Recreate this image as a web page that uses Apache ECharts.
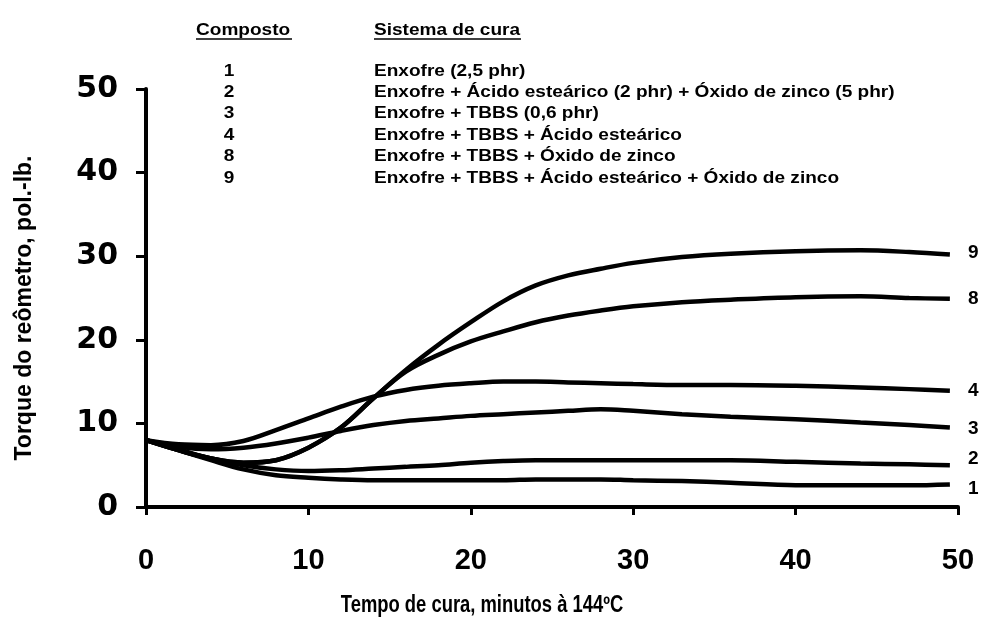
<!DOCTYPE html>
<html>
<head>
<meta charset="utf-8">
<script src="https://cdn.jsdelivr.net/npm/echarts@6/dist/echarts.min.js"></script>
<style>
html,body{margin:0;padding:0;background:#fff;}
#chart{width:981px;height:620px;}
</style>
</head>
<body>
<div id="chart"></div>
<script>
// ---- data ----
var timeGrid = [0, 2, 4, 6, 8, 10, 12, 14, 16, 18, 20, 22, 24, 26, 28, 30, 33, 36, 40, 44, 47, 49.5];
var compostos = ['1', '2', '3', '4', '8', '9'];
var sistemas = [
  'Enxofre (2,5 phr)',
  'Enxofre + Ácido esteárico (2 phr) + Óxido de zinco (5 phr)',
  'Enxofre + TBBS (0,6 phr)',
  'Enxofre + TBBS + Ácido esteárico',
  'Enxofre + TBBS + Óxido de zinco',
  'Enxofre + TBBS + Ácido esteárico + Óxido de zinco'
];
var torque1 = [8, 6.8, 5.6, 4.5, 3.8, 3.5, 3.3, 3.2, 3.2, 3.2, 3.2, 3.2, 3.3, 3.3, 3.3, 3.2, 3.1, 2.9, 2.6, 2.6, 2.6, 2.7];
var torque2 = [8, 6.9, 5.8, 5.0, 4.5, 4.3, 4.4, 4.6, 4.8, 5.0, 5.3, 5.5, 5.6, 5.6, 5.6, 5.6, 5.6, 5.6, 5.4, 5.2, 5.1, 5.0];
var torque3 = [8, 7.2, 6.9, 7.1, 7.6, 8.3, 9.1, 9.8, 10.3, 10.6, 10.9, 11.1, 11.3, 11.5, 11.7, 11.5, 11.1, 10.8, 10.5, 10.1, 9.8, 9.5];
var torque4 = [8, 7.5, 7.4, 7.9, 9.2, 10.6, 12.0, 13.2, 14.0, 14.5, 14.8, 15.0, 15.0, 14.9, 14.8, 14.7, 14.6, 14.6, 14.5, 14.3, 14.1, 13.9];
var torque8 = [8, 6.8, 5.8, 5.3, 5.6, 7.1, 9.5, 13.0, 16.2, 18.2, 19.8, 21.0, 22.1, 22.9, 23.5, 24.0, 24.5, 24.8, 25.1, 25.2, 25.0, 24.9];
var torque9 = [8, 6.8, 5.8, 5.3, 5.6, 7.1, 9.5, 13.0, 16.4, 19.4, 22.1, 24.6, 26.5, 27.7, 28.5, 29.2, 29.9, 30.3, 30.6, 30.7, 30.5, 30.2];
var xTicks = [0, 10, 20, 30, 40, 50];
var yTicks = [0, 10, 20, 30, 40, 50];
var xTitle = 'Tempo de cura, minutos à 144ºC';
var yTitle = 'Torque do reômetro, pol.-lb.';
var headCol1 = 'Composto';
var headCol2 = 'Sistema de cura';

// ---- build ----
var FONT = '"Liberation Sans", Arial, sans-serif';
var WIDE = '"DejaVu Sans", "Liberation Sans", sans-serif';
var allTorque = [torque1, torque2, torque3, torque4, torque8, torque9];
var labelOffsets = [[10, 4], [10, -6], [10, 1], [10, 0], [10, 0], [10, -2]];

function pairs(vals) {
  return timeGrid.map(function (t, i) { return [t, vals[i]]; });
}

var series = allTorque.map(function (vals, i) {
  return {
    name: compostos[i],
    type: 'line',
    data: pairs(vals),
    smooth: 0.35,
    showSymbol: false,
    symbol: 'none',
    lineStyle: { color: '#000', width: 4.5 },
    endLabel: {
      show: true,
      formatter: compostos[i],
      offset: labelOffsets[i],
      color: '#000',
      fontFamily: FONT,
      fontWeight: 'bold',
      fontSize: 19
    },
    z: 3
  };
});

var HS = 1.12;
var graphics = [];
graphics.push({ type: 'text', x: 196, y: 30, scaleX: HS, style: { text: headCol1, font: 'bold 17px ' + FONT, fill: '#000', textVerticalAlign: 'middle' } });
graphics.push({ type: 'text', x: 374, y: 30, scaleX: HS, style: { text: headCol2, font: 'bold 17px ' + FONT, fill: '#000', textVerticalAlign: 'middle' } });
graphics.push({ type: 'line', shape: { x1: 196, y1: 39, x2: 292, y2: 39 }, style: { stroke: '#000', lineWidth: 1.5 } });
graphics.push({ type: 'line', shape: { x1: 374, y1: 39, x2: 521, y2: 39 }, style: { stroke: '#000', lineWidth: 1.5 } });
compostos.forEach(function (c, i) {
  var yy = 71 + i * 21.4;
  graphics.push({ type: 'text', x: 229, y: yy, scaleX: HS, style: { text: c, font: 'bold 17px ' + FONT, fill: '#000', textAlign: 'center', textVerticalAlign: 'middle' } });
  graphics.push({ type: 'text', x: 374, y: yy, scaleX: HS, style: { text: sistemas[i], font: 'bold 17px ' + FONT, fill: '#000', textAlign: 'left', textVerticalAlign: 'middle' } });
});
// x-axis title (drawn condensed like the original)
graphics.push({ type: 'text', x: 482, y: 606, scaleX: 0.8, style: { text: xTitle, font: 'bold 23px ' + FONT, fill: '#000', textAlign: 'center', textVerticalAlign: 'middle' } });

var chart = echarts.init(document.getElementById('chart'), null, { renderer: 'canvas' });
chart.setOption({
  backgroundColor: '#fff',
  animation: false,
  grid: { left: 146, right: 23, top: 89, bottom: 113, containLabel: false },
  xAxis: {
    type: 'value',
    min: xTicks[0],
    max: xTicks[xTicks.length - 1],
    interval: xTicks[1] - xTicks[0],
    axisLine: { show: true, lineStyle: { color: '#000', width: 4 } },
    axisTick: { show: true, length: 8, inside: false, lineStyle: { color: '#000', width: 3 } },
    axisLabel: { color: '#000', fontFamily: FONT, fontWeight: 'bold', fontSize: 29, margin: 39 },
    splitLine: { show: false }
  },
  yAxis: {
    type: 'value',
    min: yTicks[0],
    max: yTicks[yTicks.length - 1],
    interval: yTicks[1] - yTicks[0],
    name: yTitle,
    nameLocation: 'middle',
    nameGap: 110,
    nameTextStyle: { fontFamily: FONT, fontWeight: 'bold', fontSize: 23, color: '#000', padding: [0, 20, 0, 0] },
    axisLine: { show: true, lineStyle: { color: '#000', width: 4 } },
    axisTick: { show: true, length: 10, inside: false, lineStyle: { color: '#000', width: 3 } },
    axisLabel: { color: '#000', fontFamily: WIDE, fontWeight: 'bold', fontSize: 30, margin: 28 },
    splitLine: { show: false }
  },
  series: series,
  graphic: graphics
});
</script>
</body>
</html>
